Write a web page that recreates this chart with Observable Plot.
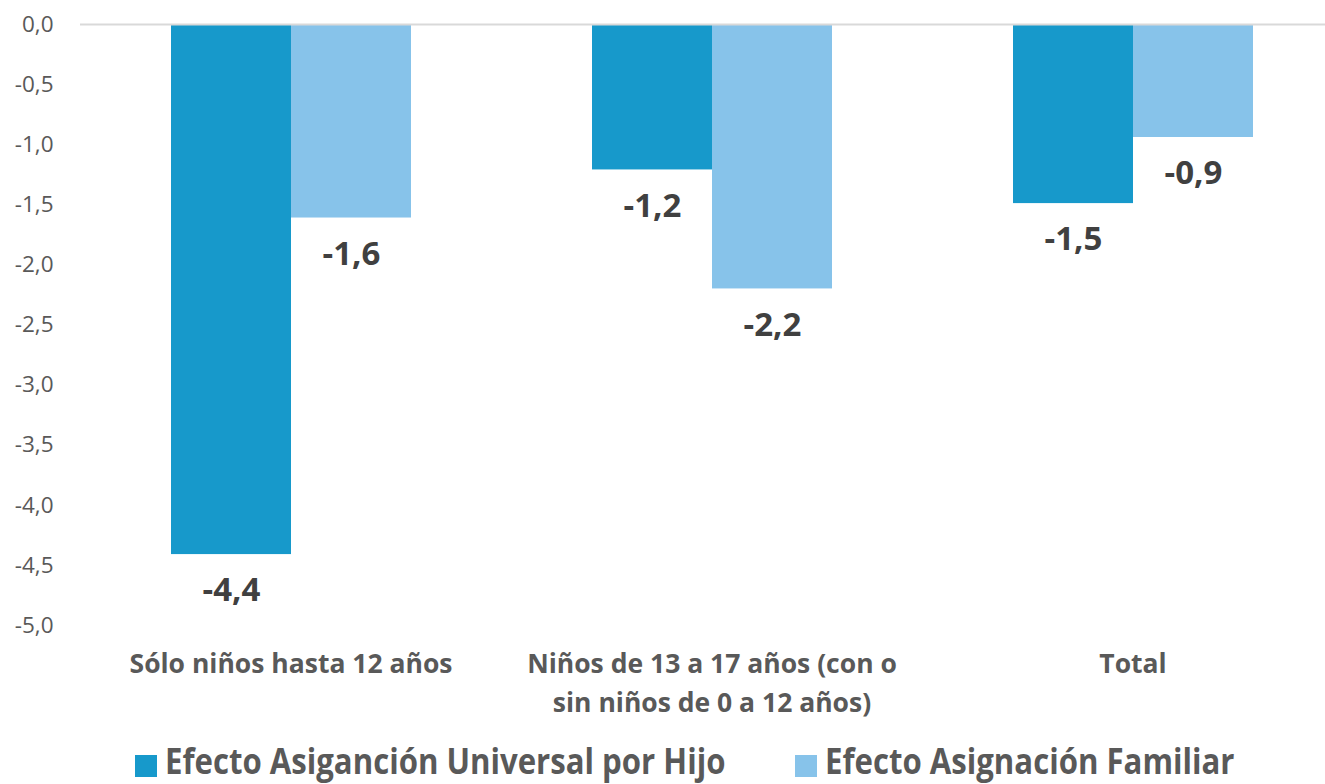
<!DOCTYPE html>
<html>
<head>
<meta charset="utf-8">
<script src="https://cdn.jsdelivr.net/npm/d3@7"></script>
<script src="https://cdn.jsdelivr.net/npm/@observablehq/plot@0.6"></script>
<style>
  html, body { margin: 0; padding: 0; background: #fff; overflow: hidden; }
  #chart { position: relative; width: 1325px; }
  .legend { position: relative; height: 64px; font-family: "Open Sans", sans-serif; font-weight: 700; color: #595959; }
  .item { position: absolute; top: 23px; height: 36px; }
  .sw { position: absolute; top: 12px; width: 22px; height: 22px; }
  .lt { position: absolute; left: 30px; top: 0; font-size: 36px; line-height: 36px; transform: scaleX(0.865); transform-origin: left center; white-space: nowrap; }
</style>
</head>
<body>
<div id="chart"></div>
<script>
const categories = ["Sólo niños hasta 12 años", "Niños de 13 a 17 años (con o sin niños de 0 a 12 años)", "Total"];
const series = ["Efecto Asiganción Universal por Hijo", "Efecto Asignación Familiar"];
const auhValues = [-4.41, -1.21, -1.49];
const afValues = [-1.61, -2.2, -0.94];
const colors = ["#1799cb", "#87c3ea"];
const yTicks = [0, -0.5, -1, -1.5, -2, -2.5, -3, -3.5, -4, -4.5, -5];
const catLines = [["Sólo niños hasta 12 años"], ["Niños de 13 a 17 años (con o", "sin niños de 0 a 12 años)"], ["Total"]];

const data = [];
categories.forEach((c, i) => {
  data.push({cat: c, serie: series[0], value: auhValues[i]});
  data.push({cat: c, serie: series[1], value: afValues[i]});
});
const fmt = v => v.toFixed(1).replace(".", ",").replace("-0,0", "0,0");

const plot = Plot.plot({
  width: 1325,
  height: 720,
  marginLeft: 80,
  marginRight: -18,
  marginTop: 24,
  marginBottom: 95,
  style: {fontFamily: "Open Sans, sans-serif", background: "#fff"},
  fx: {domain: categories, padding: 0, axis: null},
  x: {domain: series, paddingInner: 0, paddingOuter: 0.754, axis: null},
  y: {domain: [-5, 0], ticks: yTicks, tickFormat: fmt, tickSize: 0, tickPadding: 27, label: null},
  color: {domain: series, range: colors},
  marks: [
    Plot.axisY({ticks: yTicks, tickFormat: fmt, tickSize: 0, tickPadding: 27, fontSize: 22.5, fill: "#595959", label: null}),
    Plot.barY(data, {fx: "cat", x: "serie", y: "value", fill: "serie"}),
    Plot.ruleY([0], {stroke: "#d9d9d9", strokeWidth: 2}),
    Plot.text(data, {fx: "cat", x: "serie", y: "value", text: d => fmt(d.value), dy: 36, fontSize: 33, fontWeight: 700, fill: "#404040"}),
    Plot.text(categories, {fx: d => d, frameAnchor: "bottom", text: d => catLines[categories.indexOf(d)].join("\n"), lineHeight: 1.47, dy: 20, fontSize: 26.5, fontWeight: 700, fill: "#595959", lineAnchor: "top"})
  ]
});
document.getElementById("chart").appendChild(plot);

const leg = document.createElement("div");
leg.className = "legend";
const positions = [135, 795];
series.forEach((s, i) => {
  const it = document.createElement("div");
  it.className = "item";
  it.style.left = positions[i] + "px";
  it.innerHTML = `<div class="sw" style="background:${colors[i]}"></div><span class="lt">${s}</span>`;
  leg.appendChild(it);
});
document.getElementById("chart").appendChild(leg);
</script>
</body>
</html>
